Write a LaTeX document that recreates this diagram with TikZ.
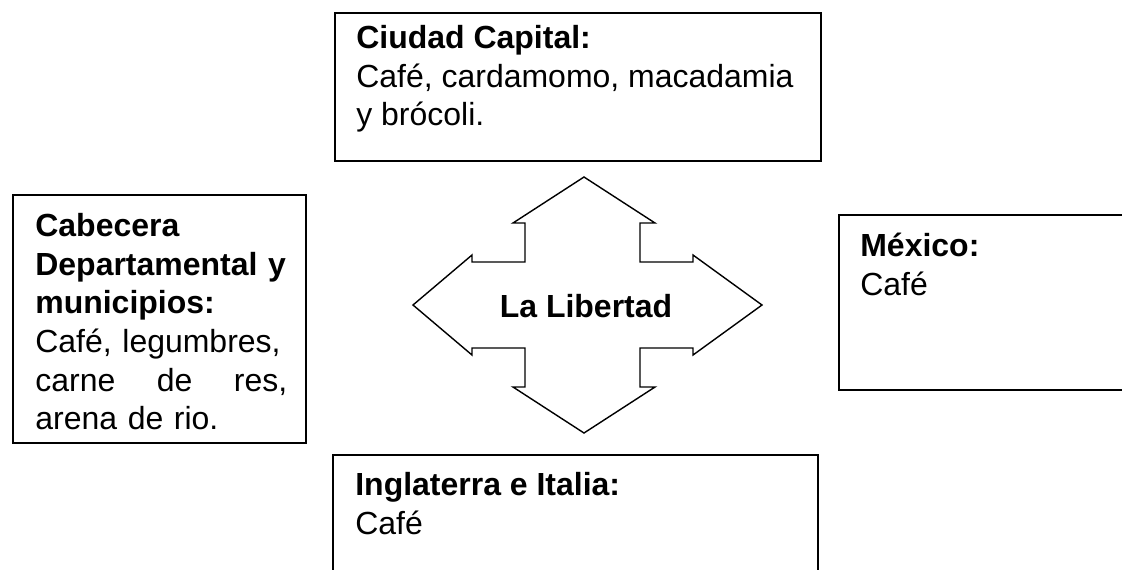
\documentclass[tikz,border=0pt]{standalone}
\usepackage{fontspec}
\setmainfont{Liberation Sans}
\usetikzlibrary{arrows.meta}

\tikzset{
    box/.style={draw, line width=1.1pt},
    txt/.style={anchor=north west, inner sep=0pt, align=left,
                font=\fontsize{18.2}{22}\selectfont},
}

\begin{document}
\begin{tikzpicture}[x=0.02cm, y=-0.02cm]
        \useasboundingbox (0, 0) rectangle (1122, 569);

        \draw[box] (335,  13) rectangle (821,  161);
        \draw[box] ( 13, 195) rectangle (306,  443);
        \draw[box] (839, 215) rectangle (1140, 390);
        \draw[box] (333, 455) rectangle (818,  590);

        \node[txt] (cap) at (356,  25) {\textbf{Ciudad Capital:}\\
                                         Café, cardamomo, macadamia\\
                                         y brócoli.};
        \node[txt, text width=5.04cm] (cab) at (35, 213)
            {\textbf{Cabecera}\\ \textbf{Departamental y}\\ \textbf{municipios:}\\
             Café, legumbres,\\ carne\hfill de\hfill res,\\ arena de rio.};
        \node[txt] (mex) at (860, 233) {\textbf{México:}\\ Café};
        \node[txt] (ing) at (355, 472) {\textbf{Inglaterra e Italia:}\\ Café};

        \draw[line width=0.8pt]
            (584, 177) -- (655, 223) -- (640, 223) -- (640, 262)
                       -- (693, 262) -- (693, 255) -- (762, 305)
                       -- (693, 355) -- (693, 348) -- (640, 348)
                       -- (640, 387) -- (655, 387) -- (584, 433)
                       -- (513, 387) -- (525, 387) -- (525, 348)
                       -- (472, 348) -- (472, 355) -- (413, 305)
                       -- (472, 255) -- (472, 262) -- (525, 262)
                       -- (525, 223) -- (513, 223) -- cycle;
        \node[font=\bfseries\fontsize{18.2}{22}\selectfont] (lib) at (586, 306) {La Libertad};
\end{tikzpicture}
\end{document}
